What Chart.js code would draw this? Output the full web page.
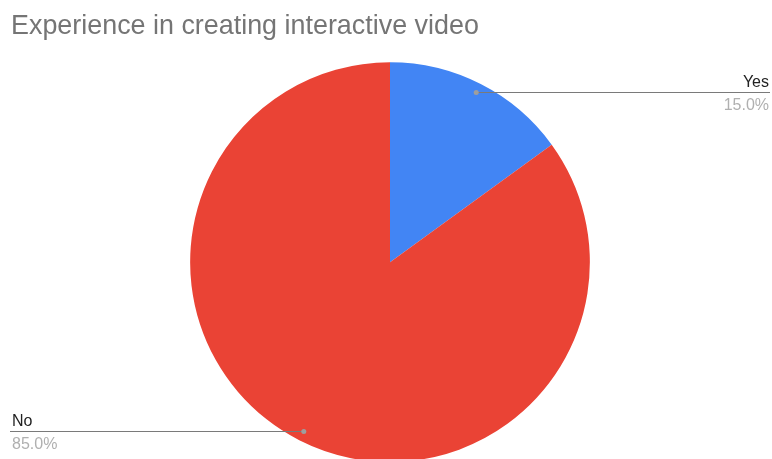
<!DOCTYPE html>
<html lang="en">
<head>
    <meta charset="UTF-8">
    <title>Experience in creating interactive video</title>
    <script src="https://cdn.jsdelivr.net/npm/chart.js"></script>
    <style>
        html, body { margin: 0; padding: 0; background: #fff; overflow: hidden; }
        #wrap { width: 772px; height: 459px; overflow: hidden; }
        #box { width: 772px; height: 470px; }
    </style>
</head>
<body>
    <div id="wrap"><div id="box"><canvas id="pieChart"></canvas></div></div>

    <script>
        // Data
        const categories = ['Yes', 'No'];
        const values = [15.0, 85.0];
        const sliceColors = ['#4285F4', '#EA4335'];

        const FONT = '"Liberation Sans", Arial, sans-serif';

        // Leader lines + labels like the Sheets chart
        const leaderLabels = {
            id: 'leaderLabels',
            afterDatasetsDraw(chart) {
                const ctx = chart.ctx;
                const meta = chart.getDatasetMeta(0);
                const total = values.reduce((a, b) => a + b, 0);
                meta.data.forEach((arc, i) => {
                    const mid = (arc.startAngle + arc.endAngle) / 2;
                    const r = arc.outerRadius * 0.95;
                    const px = arc.x + Math.cos(mid) * r;
                    const py = arc.y + Math.sin(mid) * r;
                    const ly = Math.floor(py) + 0.5;
                    const right = Math.cos(mid) >= 0;
                    const endX = right ? chart.width - 2 : 10;
                    const pct = (values[i] / total * 100).toFixed(1) + '%';

                    ctx.save();
                    ctx.strokeStyle = '#7a7a7a';
                    ctx.lineWidth = 1;
                    ctx.beginPath();
                    ctx.moveTo(px, ly);
                    ctx.lineTo(endX, ly);
                    ctx.stroke();
                    ctx.fillStyle = '#9e9e9e';
                    ctx.beginPath();
                    ctx.arc(px, ly, 2.5, 0, Math.PI * 2);
                    ctx.fill();

                    ctx.textAlign = right ? 'right' : 'left';
                    const tx = right ? chart.width - 3 : 12;
                    ctx.font = '16px ' + FONT;
                    ctx.textBaseline = 'alphabetic';
                    ctx.fillStyle = '#222';
                    ctx.fillText(categories[i], tx, ly - 6);
                    ctx.fillStyle = '#b0b0b0';
                    ctx.fillText(pct, tx, ly + 17);
                    ctx.restore();
                });
            }
        };

        const pieCtx = document.getElementById('pieChart').getContext('2d');
        const pieChart = new Chart(pieCtx, {
            type: 'pie',
            data: {
                labels: categories,
                datasets: [{
                    data: values,
                    backgroundColor: sliceColors,
                    borderWidth: 0
                }]
            },
            options: {
                responsive: true,
                maintainAspectRatio: false,
                animation: false,
                layout: { padding: { left: 11, right: 3, top: 0, bottom: 8 } },
                plugins: {
                    legend: { display: false },
                    tooltip: { enabled: false },
                    title: {
                        display: true,
                        text: 'Experience in creating interactive video',
                        align: 'start',
                        color: '#757575',
                        font: { family: FONT, size: 26.9, weight: 'normal' },
                        padding: { top: 10, bottom: 20 }
                    }
                }
            },
            plugins: [leaderLabels]
        });
    </script>
</body>
</html>
